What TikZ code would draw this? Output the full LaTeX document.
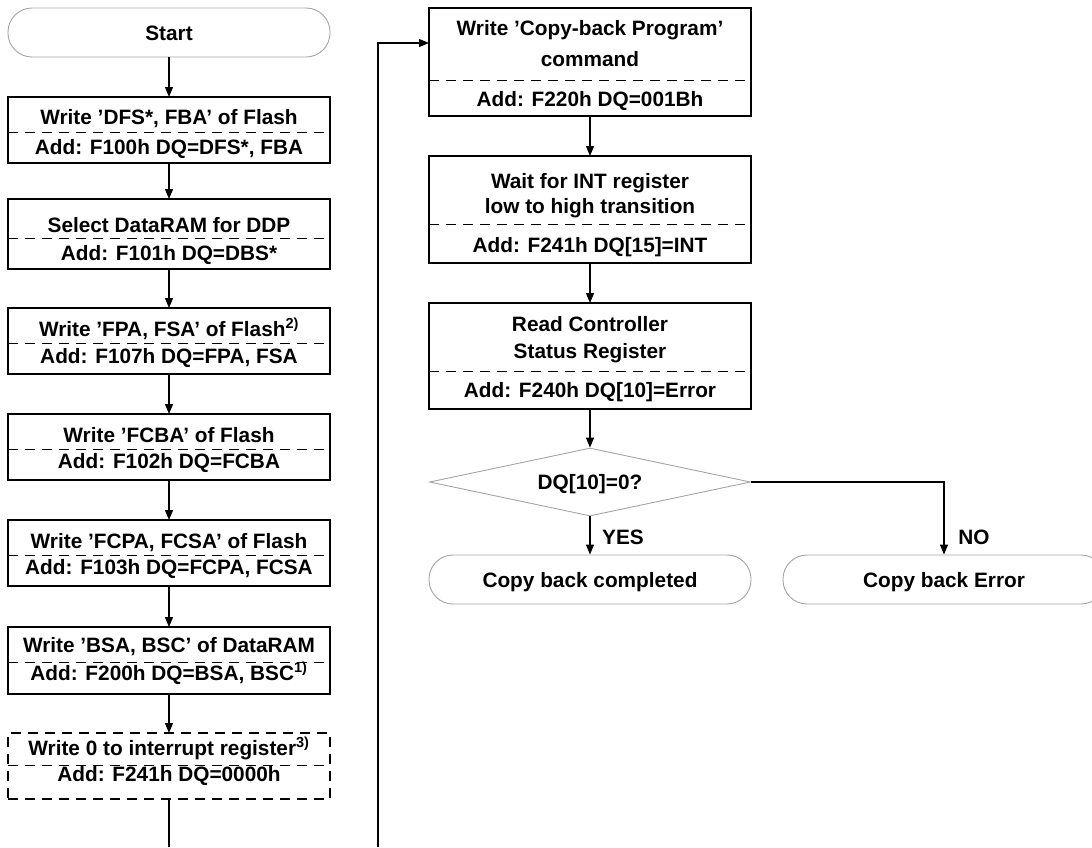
\documentclass[tikz,border=0pt]{standalone}
\usepackage{fontspec}
\setmainfont{Liberation Sans}
\usetikzlibrary{arrows.meta,shapes.geometric}
\definecolor{termgray}{RGB}{165,165,165}
\begin{document}
\begin{tikzpicture}[x=1pt,y=-1pt,
  box/.style={draw, line width=1.2pt, minimum width=322pt, inner sep=0pt, outer sep=0pt},
  dbox/.style={box, dash pattern=on 10pt off 7pt},
  term/.style={draw=termgray, line width=0.9pt, rounded corners=24pt, minimum width=322pt, minimum height=49pt, inner sep=0pt,
     font=\bfseries\fontsize{20.8}{24}\selectfont, text height=15pt, text depth=0pt},
  dia/.style={draw=termgray, line width=0.9pt, shape=diamond, shape aspect=4.72, minimum width=321pt, minimum height=68pt, inner sep=0pt,
     font=\bfseries\fontsize{20.8}{24}\selectfont, text height=15pt, text depth=0pt},
  divl/.style={line width=1.0pt, dash pattern=on 10pt off 7pt},
  txt/.style={font=\bfseries\fontsize{20.8}{24}\selectfont, anchor=base, inner sep=0pt},
  arr/.style={line width=1.2pt, -{Triangle[length=10pt,width=8pt]}},
  plain/.style={line width=1.2pt},
]
\useasboundingbox (0,0) rectangle (1092,847);
\clip (0,0) rectangle (1092,847);
\fill[white] (0,0) rectangle (1092,847);

% ---------- left column ----------
\node[term] (start) at (169,32.5) {Start};

\node[box, minimum height=66pt] (b1) at (169,130) {};
\draw[divl] (b1.west |- 0,132) -- (b1.east |- 0,132);
\node[txt] (b1a) at (169,124) {Write ’DFS*, FBA’ of Flash};
\node[txt] (b1b) at (169,154) {Add: F100h DQ=DFS*, FBA};

\node[box, minimum height=70pt] (b2) at (169,234) {};
\draw[divl] (b2.west |- 0,238) -- (b2.east |- 0,238);
\node[txt] (b2a) at (169,232) {Select DataRAM for DDP};
\node[txt] (b2b) at (169,260) {Add: F101h DQ=DBS*};

\node[box, minimum height=66pt] (b3) at (169,341) {};
\draw[divl] (b3.west |- 0,343) -- (b3.east |- 0,343);
\node[txt] (b3a) at (169,336) {Write ’FPA, FSA’ of Flash\textsuperscript{2)}};
\node[txt] (b3b) at (169,363) {Add: F107h DQ=FPA, FSA};

\node[box, minimum height=66pt] (b4) at (169,447) {};
\draw[divl] (b4.west |- 0,449) -- (b4.east |- 0,449);
\node[txt] (b4a) at (169,442) {Write ’FCBA’ of Flash};
\node[txt] (b4b) at (169,468) {Add: F102h DQ=FCBA};

\node[box, minimum height=66pt] (b5) at (169,553) {};
\draw[divl] (b5.west |- 0,555) -- (b5.east |- 0,555);
\node[txt] (b5a) at (169,548) {Write ’FCPA, FCSA’ of Flash};
\node[txt] (b5b) at (169,574) {Add: F103h DQ=FCPA, FCSA};

\node[box, minimum height=67pt] (b6) at (169,660.5) {};
\draw[divl] (b6.west |- 0,662) -- (b6.east |- 0,662);
\node[txt] (b6a) at (169,652) {Write ’BSA, BSC’ of DataRAM};
\node[txt] (b6b) at (169,680) {Add: F200h DQ=BSA, BSC\textsuperscript{1)}};

\node[dbox, minimum height=66pt] (b7) at (169,766) {};
\draw[divl] (b7.west |- 0,765) -- (b7.east |- 0,765);
\node[txt] (b7a) at (169,755) {Write 0 to interrupt register\textsuperscript{3)}};
\node[txt] (b7b) at (169,781) {Add: F241h DQ=0000h};

\draw[arr] (start) -- (b1);
\draw[arr] (b1) -- (b2);
\draw[arr] (b2) -- (b3);
\draw[arr] (b3) -- (b4);
\draw[arr] (b4) -- (b5);
\draw[arr] (b5) -- (b6);
\draw[arr] (b6) -- (b7);
\coordinate (lend) at (169,847);
\draw[plain] (b7.south) -- (lend);

% ---------- right column ----------
\node[box, minimum height=108pt] (b8) at (590,62) {};
\draw[divl] (b8.west |- 0,80) -- (b8.east |- 0,80);
\node[txt] (b8a) at (590,35) {Write ’Copy-back Program’};
\node[txt] (b8b) at (590,66) {command};
\node[txt] (b8c) at (590,106) {Add: F220h DQ=001Bh};

\node[box, minimum height=107pt] (b9) at (590,209.5) {};
\draw[divl] (b9.west |- 0,224) -- (b9.east |- 0,224);
\node[txt] (b9a) at (590,188) {Wait for INT register};
\node[txt] (b9b) at (590,213) {low to high transition};
\node[txt] (b9c) at (590,252) {Add: F241h DQ[15]=INT};

\node[box, minimum height=106pt] (b10) at (590,356) {};
\draw[divl] (b10.west |- 0,371) -- (b10.east |- 0,371);
\node[txt] (b10a) at (590,331) {Read Controller};
\node[txt] (b10b) at (590,358) {Status Register};
\node[txt] (b10c) at (590,397) {Add: F240h DQ[10]=Error};

\node[dia] (dq) at (590,482) {DQ[10]=0?};
\node[term] (comp) at (590,579.5) {Copy back completed};
\node[term] (err) at (944,579.5) {Copy back Error};

\node[txt] (yes) at (623,544) {YES};
\node[txt] (no) at (974,544) {NO};

\coordinate (lstart) at (378,847);
\coordinate (lcorner) at (378,43);
\draw[arr] (lstart) -- (lcorner) -- (b8.west |- lcorner);

\draw[arr] (b8) -- (b9);
\draw[arr] (b9) -- (b10);
\draw[arr] (b10) -- (dq);
\draw[arr] (dq) -- (comp);
\draw[arr] (dq.east) -| (err.north);
\end{tikzpicture}
\end{document}
